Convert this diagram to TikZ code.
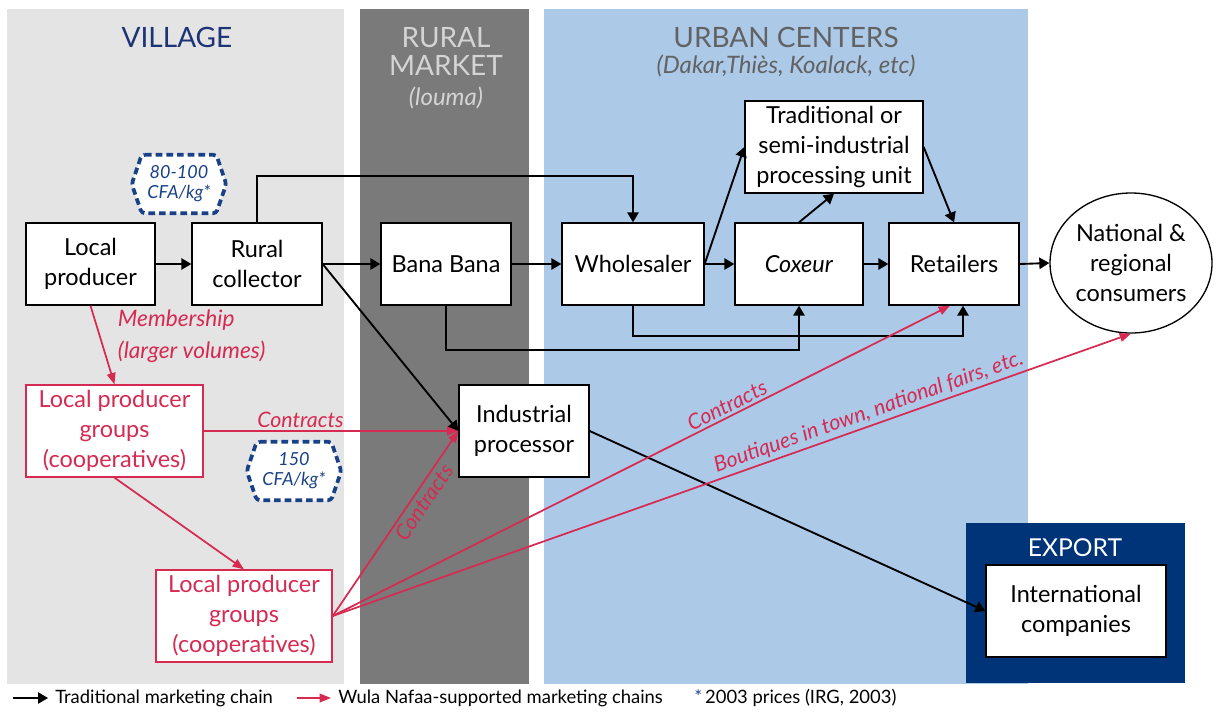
\documentclass[tikz,border=0pt]{standalone}
\usepackage{fontspec}
\setmainfont{Lato}
\usetikzlibrary{arrows.meta,shapes.geometric,calc}

\definecolor{villagegray}{RGB}{228,228,228}
\definecolor{marketgray}{RGB}{122,122,122}
\definecolor{urbanblue}{RGB}{172,201,232}
\definecolor{exportnavy}{RGB}{0,52,120}
\definecolor{badgeblue}{RGB}{25,65,135}
\definecolor{villageblue}{RGB}{28,52,118}
\definecolor{wula}{RGB}{214,42,82}
\definecolor{headgray}{RGB}{98,98,98}
\definecolor{headlight}{RGB}{212,212,212}

\newcommand{\boxfont}{\fontsize{17.6}{22.5}\selectfont}
\newcommand{\headfont}{\fontsize{21}{21}\selectfont}
\newcommand{\subfont}{\fontsize{18}{20}\selectfont\itshape}
\newcommand{\lblfont}{\fontsize{16}{24}\selectfont\itshape}
\newcommand{\memfont}{\fontsize{17}{24}\selectfont\itshape}
\newcommand{\badgefont}{\fontsize{13.5}{15}\selectfont\itshape}
\newcommand{\legfont}{\fontsize{13.8}{15}\selectfont}

\tikzset{
  box/.style={draw=black, line width=1pt, fill=white, inner sep=0pt,
    align=center, font=\boxfont, minimum height=61.5pt},
  tallbox/.style={box, minimum height=69pt},
  redbox/.style={tallbox, draw=wula, text=wula},
  trad/.style={-{Triangle[length=7.5pt,width=8.5pt]}, line width=1.4pt, black},
  wulaarrow/.style={-{Triangle[length=8.5pt,width=6.5pt]}, line width=1.3pt, wula},
  lbl/.style={font=\lblfont, text=wula, inner sep=2pt},
  badgeframe/.style={draw=badgeblue, line width=2.8pt, dash pattern=on 5pt off 3pt,
    fill=white, rounded corners=2.5pt},
  badgearea/.style={minimum width=70.5pt, minimum height=43.5pt, inner sep=0pt},
  badgetext/.style={font=\badgefont, text=badgeblue, align=center, inner sep=0pt},
  headtext/.style={font=\headfont, align=center, inner sep=0pt},
  subtext/.style={font=\subfont, inner sep=0pt},
  legtext/.style={font=\legfont, inner sep=0pt, anchor=west}
}

\begin{document}
\begin{tikzpicture}[x=0.75pt,y=-0.75pt]
\useasboundingbox (0,0) rectangle (1216,711);

% zones of the chain
\fill[villagegray] (7,9) rectangle (344,684);
\fill[marketgray] (360,9) rectangle (529,684);
\fill[urbanblue] (544,9) rectangle (1028,684);
\fill[exportnavy] (966,523) rectangle (1185,683);

% zone headings
\node[headtext, text=villageblue] (hvillage) at (177,37) {VILLAGE};
\node[headtext, text=headlight] (hrural) at (446,51) {RURAL\\MARKET};
\node[subtext, text=headlight] (hlouma) at (446,98) {(louma)};
\node[headtext, text=headgray] (hurban) at (786,37) {URBAN CENTERS};
\node[subtext, text=headgray] (hcities) at (786,66) {(Dakar,Thiès, Koalack, etc)};
\node[font=\fontsize{18.5}{20}\selectfont, text=white, inner sep=0pt] (hexport) at (1075,548) {EXPORT};

% actors of the traditional chain
\node[box, minimum width=96.75pt] (lp) at (90.5,264) {Local\\producer};
\node[box, minimum width=97.5pt] (rc) at (257,264) {Rural\\collector};
\node[box, minimum width=97.5pt] (bb) at (446,264) {Bana Bana};
\node[box, minimum width=106.5pt] (ws) at (633,264) {Wholesaler};
\node[box, minimum width=96pt] (cx) at (799,264) {\textit{Coxeur}};
\node[tallbox, minimum width=133.5pt] (tr) at (834,147) {Traditional or\\semi-industrial\\processing unit};
\node[box, minimum width=97.5pt] (rt) at (954,264) {Retailers};
\node[ellipse, draw=black, line width=1pt, fill=white, inner sep=0pt,
  minimum width=121.5pt, minimum height=105pt, align=center, font=\boxfont]
  (cons) at (1131,263) {National \&\\regional\\consumers};
\node[tallbox, minimum width=97.5pt] (ip) at (524,431) {Industrial\\processor};
\node[tallbox, minimum width=135pt] (ic) at (1076,611) {International\\companies};

% producer groups
\node[redbox, minimum width=132.75pt] (lpg1) at (114.5,431) {Local producer\\groups\\(cooperatives)};
\node[redbox, minimum width=132pt] (lpg2) at (244,616) {Local producer\\groups\\(cooperatives)};

% price badges
\node[badgearea] (b1) at (179,184) {};
\draw[badgeframe] ([xshift=7.5pt]b1.north west) -- ([xshift=-7.5pt]b1.north east)
  -- (b1.east) -- ([xshift=-7.5pt]b1.south east) -- ([xshift=7.5pt]b1.south west)
  -- (b1.west) -- cycle;
\node[badgetext] (b1t) at (b1) {80-100\\CFA/kg*};
\node[badgearea] (b2) at (294,471) {};
\draw[badgeframe] ([xshift=7.5pt]b2.north west) -- ([xshift=-7.5pt]b2.north east)
  -- (b2.east) -- ([xshift=-7.5pt]b2.south east) -- ([xshift=7.5pt]b2.south west)
  -- (b2.west) -- cycle;
\node[badgetext] (b2t) at (b2) {150\\CFA/kg*};

% traditional marketing chain
\draw[trad] (lp.east) -- (rc.west);
\draw[trad] (rc.east) -- (bb.west);
\draw[trad] (bb.east) -- (ws.west);
\draw[trad] (ws.east) -- (cx.west);
\draw[trad] (cx.east) -- (rt.west);
\draw[trad] (rt.east) -- (cons.west);
\draw[trad] (rc.north) -- ++(0,-46) -| (ws.north);
\draw[trad] (ws.east) -- (tr.west);
\draw[trad] (cx.north) -- (tr.south);
\draw[trad] (tr.east) -- (rt.north);
\draw[trad] (bb.south) -- ++(0,44) -| (cx.south);
\draw[trad] (ws.south) -- ++(0,30) -| ($(rt.south)+(9,0)$);
\draw[trad] (rc.east) -- (ip.west);
\draw[trad] (ip.east) -- (ic.west);

% supported marketing chains
\draw[wulaarrow] (lp.south) -- (lpg1.north);
\node[lbl, font=\memfont, align=left, anchor=north west] (mem) at (115,307) {Membership\\(larger volumes)};
\draw[wulaarrow] (lpg1.east) -- node[pos=0.38, above, lbl] (c1) {Contracts} (ip.west);
\draw[wulaarrow] (lpg1.south) -- (lpg2.north);
\draw[wulaarrow] (lpg2.east) -- node[pos=0.65, sloped, below, lbl] (c2) {Contracts} (ip.west);
\draw[wulaarrow] (lpg2.east) -- node[pos=0.647, sloped, above, lbl] (c3) {Contracts} ($(rt.south)+(-4,0)$);
\draw[wulaarrow] (lpg2.east) -- node[pos=0.677, sloped, above, lbl] (c4) {Boutiques in town, national fairs, etc.} (cons.south);

% key
\coordinate (k1a) at (13,698);
\coordinate (k1b) at (48,698);
\draw[trad, line width=1.1pt] (k1a) -- (k1b);
\node[legtext] (k1) at (55,698) {Traditional marketing chain};
\coordinate (k2a) at (297,698);
\coordinate (k2b) at (331,698);
\draw[wulaarrow] (k2a) -- (k2b);
\node[legtext] (k2) at (338,698) {Wula Nafaa-supported marketing chains};
\node[legtext] (k3) at (694,698) {{\color{badgeblue}*}\,2003 prices (IRG, 2003)};
\end{tikzpicture}
\end{document}
